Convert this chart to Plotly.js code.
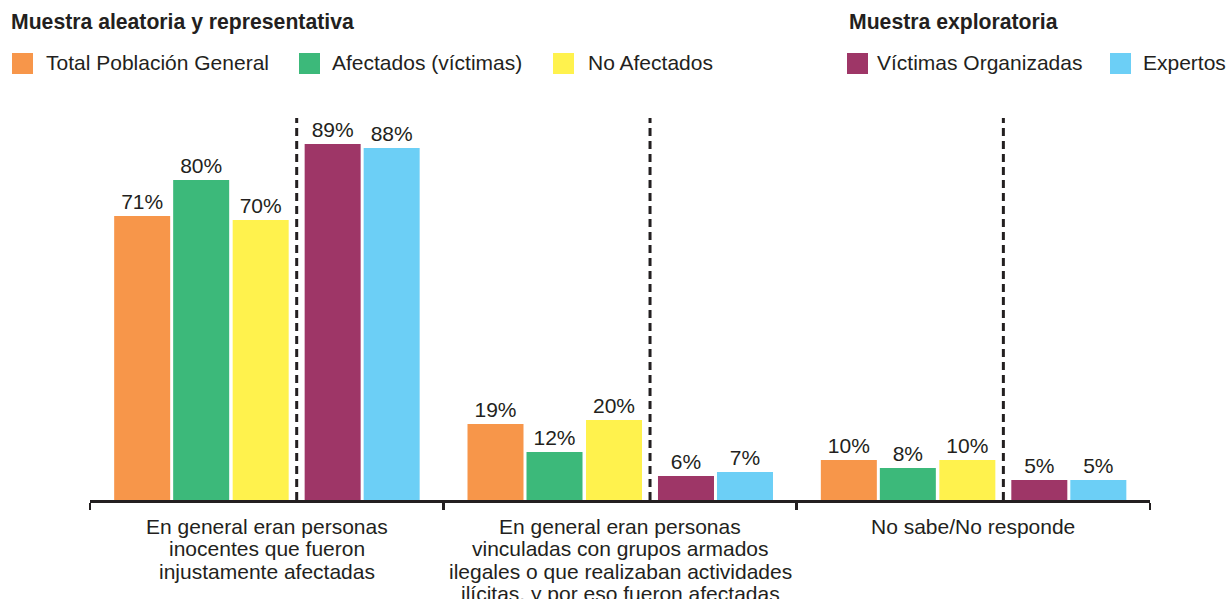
<!DOCTYPE html>
<html><head><meta charset="utf-8">
<script src="https://cdn.plot.ly/plotly-3.0.1.min.js"></script>
<style>html,body{margin:0;padding:0;background:#fff}#chart{width:1228px;height:599px}</style>
</head><body><div id="chart"></div>
<script>
// ---- data ----
const categories = [
  "En general eran personas<br>inocentes que fueron<br>injustamente afectadas",
  "En general eran personas<br>vinculadas con grupos armados<br>ilegales o que realizaban actividades<br>ilícitas, y por eso fueron afectadas",
  "No sabe/No responde"
];
const seriesNames = ["Total Población General", "Afectados (víctimas)", "No Afectados", "Víctimas Organizadas", "Expertos"];
const totalPoblacion = [71, 19, 10];
const afectados = [80, 12, 8];
const noAfectados = [70, 20, 10];
const victimasOrganizadas = [89, 6, 5];
const expertos = [88, 7, 5];
const groupTitles = ["Muestra aleatoria y representativa", "Muestra exploratoria"];

// ---- styling / layout ----
const W = 1228, H = 599, ML = 90, MR = 78, MT = 100, MB = 99;
const PW = W - ML - MR, PH = H - MT - MB;
const dark = "#231f20";
const font = "Liberation Sans, Arial, Helvetica, sans-serif";
const colors = ["#F7964A", "#3CB97A", "#FFF24D", "#9E3667", "#6CCFF6"];
const values = [totalPoblacion, afectados, noAfectados, victimasOrganizadas, expertos];
const barW = 0.1585;
const offsets = [-0.4316, -0.2646, -0.0962, 0.1075, 0.2745];
const dividerOffset = 0.085;

const px = x => (x - ML) / PW;
const py = y => (MT + PH - y) / PH;

const traces = values.map((v, i) => ({
  type: "bar",
  name: seriesNames[i],
  x: categories,
  y: v,
  width: barW,
  offset: offsets[i],
  marker: {color: colors[i], line: {width: 0}},
  text: v.map(d => d + "%"),
  textposition: "outside",
  outsidetextfont: {family: font, size: 21, color: dark},
  cliponaxis: false,
  hoverinfo: "skip",
  showlegend: false
}));

const shapes = [];
const annotations = [];
categories.forEach((c, i) => {
  shapes.push({type: "line", xref: "x", yref: "y", x0: i + dividerOffset, x1: i + dividerOffset,
    y0: 0, y1: 95.5, line: {color: dark, width: 3, dash: "8px,5px"}});
  // category label, drawn line by line for tight line spacing
  c.split("<br>").forEach((line, k) => {
    annotations.push({xref: "x", yref: "paper", x: i, y: py(526 + k * 22.5),
      xanchor: "center", yanchor: "middle", showarrow: false, text: line,
      font: {family: font, size: 21, color: dark}});
  });
});

// custom legend
const legendSq = [12, 299, 553, 847, 1110];
const legendTx = [44, 330, 586, 875, 1141];
seriesNames.forEach((n, i) => {
  shapes.push({type: "rect", xref: "paper", yref: "paper",
    x0: px(legendSq[i]), x1: px(legendSq[i] + 21), y0: py(74), y1: py(53),
    fillcolor: colors[i], line: {width: 0}});
  annotations.push({xref: "paper", yref: "paper", x: px(legendTx[i]), y: py(62.5),
    xanchor: "left", yanchor: "middle", showarrow: false, text: n,
    font: {family: font, size: 21, color: dark}});
});
const titleX = [9, 847];
groupTitles.forEach((t, i) => {
  annotations.push({xref: "paper", yref: "paper", x: px(titleX[i]), y: py(22.5),
    xanchor: "left", yanchor: "middle", showarrow: false, text: "<b>" + t + "</b>",
    font: {family: font, size: 21.2, color: dark}});
});

const layout = {
  width: W, height: H,
  margin: {l: ML, r: MR, t: MT, b: MB},
  paper_bgcolor: "#fff", plot_bgcolor: "#fff",
  barmode: "overlay",
  showlegend: false,
  font: {family: font, color: dark},
  xaxis: {
    type: "category",
    range: [-0.5, 2.5],
    showline: true, linecolor: dark, linewidth: 2.5,
    ticks: "outside", tickson: "boundaries", ticklen: 7, tickwidth: 2.5, tickcolor: dark,
    showticklabels: false,
    showgrid: false, zeroline: false, fixedrange: true
  },
  yaxis: {range: [0, 100], visible: false, showgrid: false, zeroline: false, fixedrange: true},
  shapes: shapes,
  annotations: annotations
};

Plotly.newPlot("chart", traces, layout, {displayModeBar: false, staticPlot: true});
</script>
</body></html>
